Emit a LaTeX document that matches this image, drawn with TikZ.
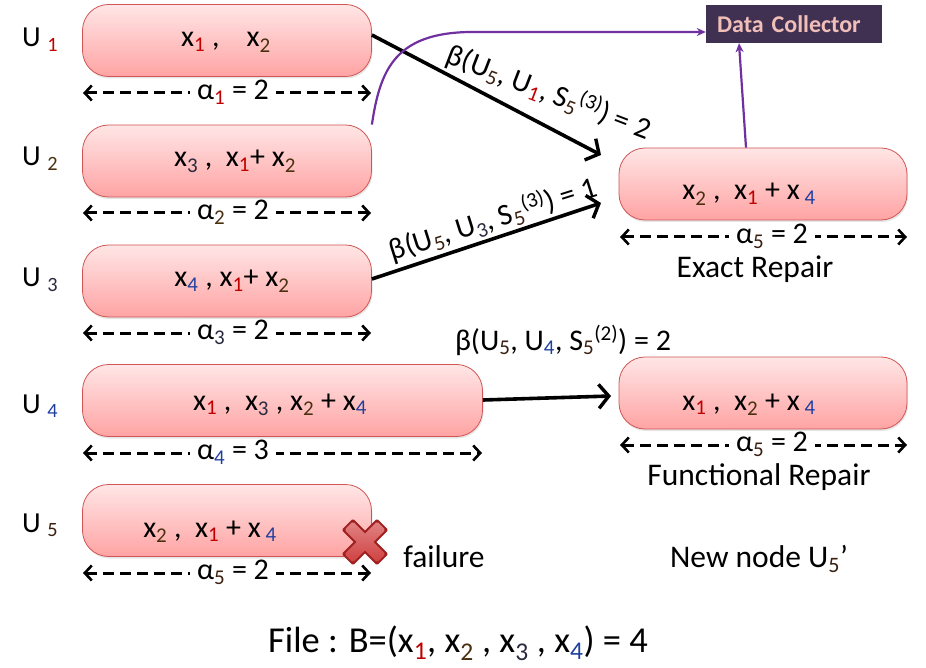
\documentclass[tikz,border=0pt]{standalone}
\usepackage{fontspec}
\setmainfont{Carlito}
\usetikzlibrary{arrows.meta,shadows}
\definecolor{cone}{HTML}{C00000}
\definecolor{ctwo}{HTML}{4A3010}
\definecolor{cthree}{HTML}{2A2A40}
\definecolor{cfour}{HTML}{1F3F9F}
\definecolor{cfive}{HTML}{3A2010}
\definecolor{boxtop}{HTML}{FFE6E6}
\definecolor{boxbot}{HTML}{FFA3A3}
\definecolor{boxline}{HTML}{D05555}
\definecolor{dcfill}{HTML}{403152}
\definecolor{dctext}{HTML}{F2BFB8}
\definecolor{purp}{HTML}{7030A0}
\definecolor{xred}{HTML}{D04040}
\definecolor{xdark}{HTML}{A02020}
\newcommand\sA{\textsubscript{\color{cone}1}}
\newcommand\sB{\textsubscript{\color{ctwo}2}}
\newcommand\sC{\textsubscript{\color{cthree}3}}
\newcommand\sD{\textsubscript{\color{cfour}4}}
\newcommand\sE{\textsubscript{\color{cfive}5}}
\tikzset{
  rbox/.style={draw=boxline, line width=0.8pt, rounded corners=26pt,
    top color=boxtop, bottom color=boxbot, minimum height=72pt,
    drop shadow={opacity=0.2, shadow xshift=1pt, shadow yshift=-2pt}},
  boxtext/.style={anchor=base, font=\fontsize{30}{34}\selectfont, inner sep=0pt},
  ulabel/.style={anchor=base west, font=\fontsize{29}{33}\selectfont, inner sep=0pt},
  dimline/.style={line width=3pt, dash pattern=on 11pt off 6pt,
    {Straight Barb[length=7pt,width=15pt,line width=2.6pt]}-{Straight Barb[length=7pt,width=15pt,line width=2.6pt]}},
  dimtext/.style={fill=white, inner xsep=7pt, inner ysep=1pt, font=\fontsize{30}{34}\selectfont},
  bigarrow/.style={line width=3.6pt, -{Straight Barb[length=10pt,width=24pt,line width=3.4pt]}},
  betatext/.style={font=\fontsize{30}{34}\selectfont, inner sep=0pt},
  plain/.style={font=\fontsize{31.5}{35}\selectfont, inner sep=0pt, anchor=base},
  purparrow/.style={draw=purp, line width=2.2pt, -{Stealth[length=9pt,width=8pt]}}
}
\begin{document}
\begin{tikzpicture}[x=1pt,y=-1pt]
\useasboundingbox (0,0) rectangle (926,668);

% storage node boxes
\node[rbox, minimum width=289pt] (b1) at (227,40.5) {};
\node[rbox, minimum width=289pt] (b2) at (227,161) {};
\node[rbox, minimum width=289pt] (b3) at (227,281) {};
\node[rbox, minimum width=400pt] (b4) at (282.5,400.5) {};
\node[rbox, minimum width=289pt] (b5) at (227,520.5) {};
\node[rbox, minimum width=288pt] (be) at (763,184) {};
\node[rbox, minimum width=288pt] (bf) at (763,393) {};

% box texts
\node[boxtext] (t1) at (226,47) {x\sA\ ,\ \ \ \ x\sB};
\node[boxtext] (t2) at (235,167) {x\sC\ ,\ \ x\sA+ x\sB};
\node[boxtext] (t3) at (232,287) {x\sD\ , x\sA+ x\sB};
\node[boxtext] (t4) at (280,410) {x\sA\ ,\ \ x\sC\ , x\sB\ + x\sD};
\node[boxtext] (t5) at (210,537) {x\sB\ ,\ \ x\sA\ + x\textsubscript{\ \color{cfour}4}};
\node[boxtext] (te) at (749,200) {x\sB\ ,\ \ x\sA\ + x\textsubscript{\ \color{cfour}4}};
\node[boxtext] (tf) at (749,410) {x\sA\ ,\ \ x\sB\ + x\textsubscript{\ \color{cfour}4}};

% U labels
\node[ulabel] (u1) at (22,47) {U \textsubscript{\color{cone}1}};
\node[ulabel] (u2) at (22,166) {U \textsubscript{\color{ctwo}2}};
\node[ulabel] (u3) at (22,287) {U \textsubscript{\color{cthree}3}};
\node[ulabel] (u4) at (22,413) {U \textsubscript{\color{cfour}4}};
\node[ulabel] (u5) at (22,532) {U \textsubscript{\color{cfive}5}};

% dimension lines
\coordinate (d1l) at (83,93);   \coordinate (d1r) at (371,93);
\coordinate (d2l) at (83,213);  \coordinate (d2r) at (371,213);
\coordinate (d3l) at (83,333);  \coordinate (d3r) at (371,333);
\coordinate (d4l) at (83,453);  \coordinate (d4r) at (482,453);
\coordinate (d5l) at (83,573);  \coordinate (d5r) at (371,573);
\coordinate (del) at (620,237); \coordinate (der) at (907,237);
\coordinate (dfl) at (620,445); \coordinate (dfr) at (907,445);
\draw[dimline] (d1l) -- (d1r);
\draw[dimline] (d2l) -- (d2r);
\draw[dimline] (d3l) -- (d3r);
\draw[dimline] (d4l) -- (d4r);
\draw[dimline] (d5l) -- (d5r);
\draw[dimline] (del) -- (der);
\draw[dimline] (dfl) -- (dfr);
\node[dimtext] (a1) at (233,92) {α\sA\ = 2};
\node[dimtext] (a2) at (233,212) {α\sB\ = 2};
\node[dimtext] (a3) at (233,332) {α\sC\ = 2};
\node[dimtext] (a4) at (233,452) {α\sD\ = 3};
\node[dimtext] (a5) at (233,572) {α\sE\ = 2};
\node[dimtext] (ae) at (772,236) {α\sE\ = 2};
\node[dimtext] (af) at (772,444) {α\sE\ = 2};

% data collector
\node[fill=dcfill, minimum width=176pt, minimum height=38pt, inner xsep=11pt, inner ysep=0pt,
  text width=154pt, align=left,
  font=\fontsize{24}{27}\selectfont\bfseries, text=dctext] (dc) at (794,24) {Data Collector};

% repair arrows
\coordinate (e1) at (601,155);
\coordinate (e3) at (601,203);
\coordinate (e4) at (611,396);
\draw[bigarrow] (b1.east |- 0,35) -- (e1);
\draw[bigarrow] (b3.east |- 0,279) -- (e3);
\draw[bigarrow] (b4.east |- 0,400) -- (e4);
\node[betatext, rotate=-21] (l1) at (549,92) {β(U\sE, U\sA, S\sE\textsuperscript{(3)}) = 2};
\node[betatext, rotate=17.5] (l3) at (493,219) {β(U\sE, U\sC, S\sE\textsuperscript{(3)}) = 1};
\node[betatext, anchor=base] (l4) at (563,350) {β(U\sE, U\sD, S\sE\textsuperscript{(2)}) = 2};

% purple connections
\draw[purparrow] (b2.north east) .. controls (380,70) and (395,33) .. (470,32) -- (dc.west |- 0,32);
\draw[purparrow] (be.north -| 746,0) -- (dc.south -| 739,0);

% failure mark
\begin{scope}[shift={(365,542)}]
  \fill[xdark, rotate=45, rounded corners=1.5pt] (-25,-8) rectangle (25,8);
  \fill[xdark, rotate=-45, rounded corners=1.5pt] (-25,-8) rectangle (25,8);
  \shade[top color=xred!65!white, bottom color=xred, rotate=45, rounded corners=1.5pt] (-23,-6) rectangle (23,6);
  \shade[top color=xred!65!white, bottom color=xred, rotate=-45, rounded corners=1.5pt] (-23,-6) rectangle (23,6);
\end{scope}
\node[plain] (fail) at (444,567) {failure};

% labels
\node[plain] (exact) at (755,278) {Exact Repair};
\node[plain] (func) at (759,485) {Functional Repair};
\node[plain] (newn) at (759,567) {New node U\sE’};
\node[anchor=base, inner sep=0pt, font=\fontsize{36.5}{40}\selectfont] (file) at (458,652)
  {File : B=(x\sA, x\sB\ , x\sC\ , x\sD) = 4};
\end{tikzpicture}
\end{document}
